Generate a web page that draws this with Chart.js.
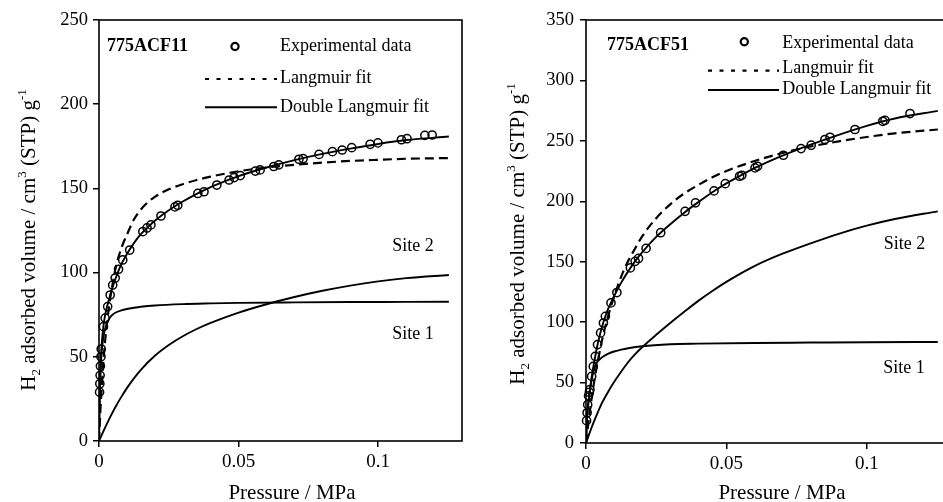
<!DOCTYPE html>
<html><head><meta charset="utf-8">
<script src="https://cdn.jsdelivr.net/npm/chart.js@4.4.0/dist/chart.umd.min.js"></script>
<style>
html,body{margin:0;padding:0;background:#fff;overflow:hidden;width:943px;height:502px;position:relative;}
canvas{position:absolute;top:0;}
#cL{left:0;} #cR{left:480px;}
</style></head><body>
<canvas id="cL" width="480" height="502"></canvas>
<canvas id="cR" width="480" height="502"></canvas>
<script>
// ---------- shared tick labels ----------
const xTickValues = [0, 0.05, 0.1];
const xTickLabels = ['0', '0.05', '0.1'];
const yTicksL = [0, 50, 100, 150, 200, 250];
const yTicksR = [0, 50, 100, 150, 200, 250, 300, 350];
const legendLabels = ['Experimental data', 'Langmuir fit', 'Double Langmuir fit'];
const siteLabels = ['Site 1', 'Site 2'];
const xTitle = 'Pressure / MPa';

// ---------- 775ACF11 (left) ----------
const sampleL = '775ACF11';
const expP_L = [0.0002,0.0003,0.0004,0.0005,0.0007,0.0008,0.0016,0.0022,0.0031,0.0040,0.0049,0.0058,0.0070,0.0085,0.0110,0.0157,0.0172,0.0186,0.0222,0.0272,0.0282,0.0354,0.0376,0.0422,0.0466,0.0484,0.0506,0.0560,0.0577,0.0626,0.0644,0.0716,0.0731,0.0788,0.0836,0.0871,0.0905,0.0971,0.0999,0.1083,0.1103,0.1167,0.1193];
const expV_L = [29,34,39,44.5,50,54.6,67.9,73,79.8,86.7,92.6,96.8,102,107.5,113.4,124.3,126.5,128.3,133.6,139,140,147,148,152,155,156.4,157.6,160.3,161,163,164,167.3,167.7,170.2,171.8,172.8,174.2,176.2,177,178.9,179.5,181.5,181.7];
const langP_L = [0,0.0005,0.001,0.002,0.003,0.004,0.006,0.008,0.01,0.0125,0.015,0.0175,0.02,0.025,0.03,0.035,0.04,0.045,0.05,0.06,0.07,0.08,0.09,0.1,0.11,0.1253];
const langV_L = [0,18,33,56,72,84.5,103,114.5,122.5,131.5,137.5,141.8,145,149.5,152.5,155,157,158.7,160.2,162.4,164,165.3,166.3,167,167.6,168];
const dualP_L = [0,0.0002,0.0004,0.0006,0.0008,0.001,0.0015,0.002,0.003,0.004,0.005,0.006,0.008,0.01,0.0125,0.015,0.0175,0.02,0.025,0.03,0.035,0.04,0.045,0.05,0.06,0.07,0.08,0.09,0.1,0.11,0.1253];
const dualV_L = [0,23,37,46,53,58,67,73,80.5,86.5,92,96.8,105,111,117.5,122.8,127,130.8,137,142.2,146.8,150.8,154.2,157.3,162.4,166.8,170.5,173.6,176.4,178.7,180.8];
const site1P_L = [0,0.0002,0.0004,0.0006,0.0008,0.001,0.0015,0.002,0.003,0.004,0.005,0.006,0.008,0.01,0.0125,0.015,0.02,0.03,0.04,0.05,0.07,0.09,0.11,0.1253];
const site1V_L = [0,22,35,43,49,54,61,65.5,70.5,73.5,75.2,76.3,77.6,78.4,79.1,79.7,80.5,81.3,81.7,82,82.3,82.5,82.6,82.7];
const site2P_L = [0,0.001,0.002,0.004,0.006,0.008,0.01,0.0125,0.015,0.02,0.025,0.03,0.035,0.04,0.05,0.06,0.07,0.08,0.09,0.1,0.11,0.1253];
const site2V_L = [0,3.7,7.3,14.2,20.5,26.2,31.4,37.2,42.3,50.6,57,62.2,66.5,70.1,76.2,81.2,85.5,89.2,92.3,94.8,96.7,98.6];

// ---------- 775ACF51 (right) ----------
const sampleR = '775ACF51';
const expP_R = [0.0002,0.0004,0.0006,0.0009,0.0012,0.0014,0.0020,0.0026,0.0033,0.0041,0.0052,0.0062,0.0069,0.0089,0.0110,0.0158,0.0175,0.0187,0.0214,0.0266,0.0353,0.0390,0.0456,0.0496,0.0547,0.0555,0.0602,0.0611,0.0703,0.0766,0.0802,0.0851,0.0869,0.0958,0.1057,0.1065,0.1154];
const expV_R = [18.5,25,31.7,39,42,44.1,55.1,63.4,71.7,81.4,91.1,99.3,104.8,115.9,124.5,144.9,150.3,152.7,161,174,191.7,198.7,208.6,214.6,220.7,221.5,227.6,229,238.1,243.6,246.4,251.1,253,259.4,266.2,267,272.6];
const langP_R = [0,0.0005,0.001,0.002,0.003,0.004,0.005,0.006,0.008,0.01,0.0125,0.015,0.0175,0.02,0.025,0.03,0.035,0.04,0.045,0.05,0.06,0.07,0.08,0.09,0.1,0.11,0.1253];
const langV_R = [0,10,19.5,37,52,65.5,77,88,106,121,137.5,150.5,161,171,186,197.5,206.5,213.5,219.8,225,233.3,240,245.3,249.6,253.2,256.2,259.4];
const dualP_R = [0,0.0002,0.0005,0.001,0.0015,0.002,0.003,0.004,0.005,0.006,0.007,0.008,0.01,0.0125,0.015,0.0175,0.02,0.025,0.03,0.035,0.04,0.045,0.05,0.055,0.06,0.07,0.08,0.09,0.1,0.11,0.1253];
const dualV_R = [0,14,26,37,46,54.5,68,80,90,98.5,105.5,111.5,121.5,132.5,142,150.5,157.8,170.5,181,190.6,199.3,207.5,214.8,221.3,227.4,237.7,246.8,255,262.4,268.5,274.8];
const site1P_R = [0,0.0005,0.001,0.0015,0.002,0.003,0.004,0.005,0.006,0.008,0.01,0.0125,0.015,0.02,0.03,0.04,0.06,0.08,0.1,0.1253];
const site1V_R = [0,24,36,45,52,62,67,69.5,71.3,73.9,75.7,77.2,78.4,80.1,81.7,82.2,82.8,83.1,83.4,83.6];
const site2P_R = [0,0.001,0.002,0.003,0.004,0.005,0.006,0.008,0.01,0.0125,0.015,0.0175,0.02,0.025,0.03,0.035,0.04,0.045,0.05,0.055,0.06,0.07,0.08,0.09,0.1,0.11,0.1253];
const site2V_R = [0,6.5,12.8,18.7,24.3,29.7,34.5,42.8,50.4,59,66.8,73.5,79.2,89.5,99.3,108.6,117.6,125.8,133.3,140.2,146.4,156.6,165.2,173.1,179.8,185.3,191.7];

// ---------- helpers ----------
const FONT = '"Liberation Serif", "Times New Roman", serif';
const zip = (xs, ys) => xs.map((x, i) => ({x: x, y: ys[i]}));

function drawRich(ctx, parts, cx, cy, size) {
  ctx.save();
  ctx.translate(cx, cy);
  ctx.rotate(-Math.PI / 2);
  const main = size + 'px ' + FONT, small = Math.round(size * 0.64) + 'px ' + FONT;
  let w = 0;
  parts.forEach(p => { ctx.font = p.s ? small : main; p.w = ctx.measureText(p.t).width; w += p.w; });
  let x = -w / 2;
  ctx.textBaseline = 'alphabetic';
  ctx.textAlign = 'left';
  ctx.fillStyle = '#000';
  parts.forEach(p => {
    ctx.font = p.s ? small : main;
    const dy = p.s === 'sub' ? size * 0.22 : (p.s === 'sup' ? -size * 0.42 : 0);
    ctx.fillText(p.t, x, size * 0.34 + dy);
    x += p.w;
  });
  ctx.restore();
}

const yTitleParts = () => [
  {t: 'H'}, {t: '2', s: 'sub'}, {t: ' adsorbed volume / cm'}, {t: '3', s: 'sup'},
  {t: ' (STP) g'}, {t: '-1', s: 'sup'}
];

const decor = {
  id: 'decor',
  afterDraw(chart, args, o) {
    const ctx = chart.ctx, a = chart.chartArea;
    ctx.save();
    ctx.strokeStyle = '#000';
    ctx.lineWidth = 1.6;
    ctx.setLineDash([]);
    ctx.strokeRect(a.left, a.top, a.right - a.left, a.bottom - a.top);

    ctx.fillStyle = '#000';
    ctx.textBaseline = 'middle';
    ctx.textAlign = 'left';
    ctx.font = 'bold 18px ' + FONT;
    ctx.fillText(o.sample, o.sampleX, o.sampleY);
    ctx.font = '18px ' + FONT;
    ctx.beginPath();
    ctx.lineWidth = 2.2;
    ctx.arc(o.circX, o.circY, 3.6, 0, Math.PI * 2);
    ctx.stroke();
    ctx.fillText(legendLabels[0], o.textX, o.row1);
    ctx.lineWidth = 2.2;
    ctx.setLineDash([4, 7.5]);
    ctx.beginPath(); ctx.moveTo(o.lineX0, o.dashY); ctx.lineTo(o.lineX1, o.dashY); ctx.stroke();
    ctx.setLineDash([]);
    ctx.fillText(legendLabels[1], o.textX, o.row2);
    ctx.lineWidth = 1.9;
    ctx.beginPath(); ctx.moveTo(o.lineX0, o.solidY); ctx.lineTo(o.lineX1, o.solidY); ctx.stroke();
    ctx.fillText(legendLabels[2], o.textX, o.row3);
    ctx.textAlign = 'center';
    ctx.fillText(siteLabels[1], o.site2X, o.site2Y);
    ctx.fillText(siteLabels[0], o.site1X, o.site1Y);
    ctx.font = '21px ' + FONT;
    ctx.textBaseline = 'alphabetic';
    ctx.fillText(xTitle, o.xTitleX, o.xTitleY);
    ctx.restore();
    drawRich(ctx, yTitleParts(), o.yTitleX, o.yTitleY, 21);
  }
};

function makeChart(id, d, lay) {
  const lineDs = (label, xs, ys, dash) => ({
    label: label, data: zip(xs, ys), showLine: true, borderColor: '#000',
    borderWidth: dash ? 2.2 : 1.9, borderDash: dash || [], pointRadius: 0, pointHoverRadius: 0,
    fill: false, cubicInterpolationMode: 'monotone', order: 2
  });
  return new Chart(document.getElementById(id), {
    type: 'scatter',
    data: {
      datasets: [
        lineDs('Langmuir fit', d.langP, d.langV, [9, 5]),
        lineDs('Double Langmuir fit', d.dualP, d.dualV),
        lineDs('Site 1', d.s1P, d.s1V),
        lineDs('Site 2', d.s2P, d.s2V),
        {
          label: 'Experimental data', data: zip(d.expP, d.expV), showLine: false,
          pointStyle: 'circle', pointRadius: 4.1, pointBorderWidth: 1.5,
          pointBackgroundColor: 'rgba(0,0,0,0)', pointBorderColor: '#000',
          borderColor: '#000', clip: false, order: 1
        }
      ]
    },
    options: {
      responsive: false, animation: false, devicePixelRatio: 1,
      layout: {padding: {left: 0, right: lay.padRight, top: 20, bottom: 0}},
      plugins: {legend: {display: false}, tooltip: {enabled: false}, decor: lay.decor},
      scales: {
        x: {
          type: 'linear', min: 0, max: 0.13,
          afterFit: s => { s.height = lay.xH; },
          afterBuildTicks: s => { s.ticks = xTickValues.map(v => ({value: v})); },
          ticks: {callback: (v, i) => xTickLabels[i], font: {family: FONT, size: 19}, color: '#000',
                  padding: lay.xPad, autoSkip: false, maxRotation: 0},
          grid: {drawOnChartArea: false, drawTicks: true, tickLength: 6, color: '#000', lineWidth: 1.5},
          border: {display: false}
        },
        y: {
          type: 'linear', min: 0, max: d.yMax,
          afterFit: s => { s.width = lay.yW; },
          afterBuildTicks: s => { s.ticks = d.yTicks.map(v => ({value: v})); },
          ticks: {callback: v => String(v), font: {family: FONT, size: 18.5}, color: '#000',
                  padding: lay.yPad, autoSkip: false},
          grid: {drawOnChartArea: false, drawTicks: true, tickLength: 6, color: '#000', lineWidth: 1.5},
          border: {display: false}
        }
      }
    },
    plugins: [decor]
  });
}

makeChart('cL', {
  expP: expP_L, expV: expV_L, langP: langP_L, langV: langV_L, dualP: dualP_L, dualV: dualV_L,
  s1P: site1P_L, s1V: site1V_L, s2P: site2P_L, s2V: site2V_L, yMax: 250, yTicks: yTicksL
}, {
  padRight: 18, xH: 61, yW: 99, xPad: 4, yPad: 5,
  decor: {
    sample: sampleL, sampleX: 107, sampleY: 46,
    circX: 235, circY: 46.5, textX: 280, row1: 46, row2: 78.5, row3: 107,
    lineX0: 205, lineX1: 277, dashY: 79, solidY: 107.3,
    site2X: 413, site2Y: 246, site1X: 413, site1Y: 334,
    xTitleX: 292, xTitleY: 499, yTitleX: 28, yTitleY: 240
  }
});

makeChart('cR', {
  expP: expP_R, expV: expV_R, langP: langP_R, langV: langV_R, dualP: dualP_R, dualV: dualV_R,
  s1P: site1P_R, s1V: site1V_R, s2P: site2P_R, s2V: site2V_R, yMax: 350, yTicks: yTicksR
}, {
  padRight: 9, xH: 59, yW: 106, xPad: 4, yPad: 6,
  decor: {
    sample: sampleR, sampleX: 127, sampleY: 45,
    circX: 264.3, circY: 41.7, textX: 302.3, row1: 43, row2: 68, row3: 89.5,
    lineX0: 228, lineX1: 299, dashY: 70.7, solidY: 90,
    site2X: 424.5, site2Y: 244, site1X: 424, site1Y: 368,
    xTitleX: 302, xTitleY: 499, yTitleX: 37, yTitleY: 234
  }
});
</script>
</body></html>
